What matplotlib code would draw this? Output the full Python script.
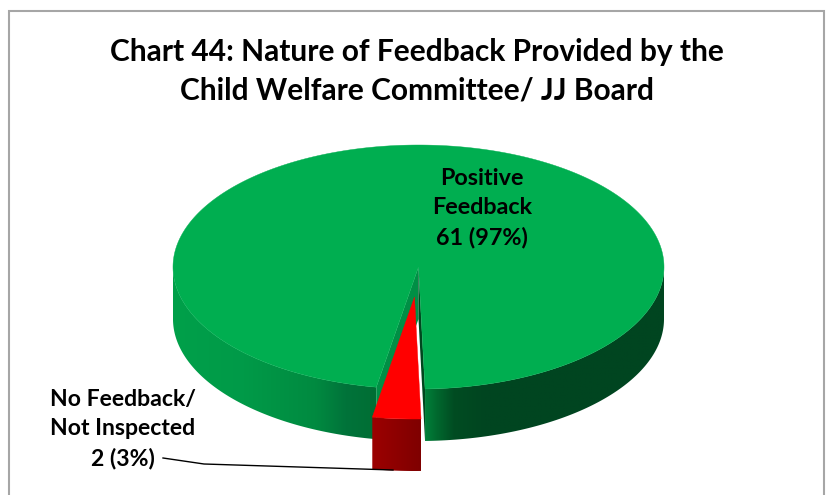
import numpy as np
import matplotlib
matplotlib.use('Agg')
import matplotlib.pyplot as plt
from matplotlib.colors import LinearSegmentedColormap
from matplotlib.patches import Polygon, Rectangle

title = 'Chart 44: Nature of Feedback Provided by the\nChild Welfare Committee/ JJ Board'
categories = ['Positive\nFeedback', 'No Feedback/\nNot Inspected']
values = [61, 2]
percents = ['97%', '3%']

plt.rcParams['font.family'] = ['Lato', 'DejaVu Sans']

# pie geometry in pixels
cx, cy = 418.5, 267
rx, ry = 245.5, 122
depth = 52
red_shift = (-4, 30)
start = -9.9  # degrees from the bottom of the ellipse


def rim(a, dx=0, dy=0):
    a = np.radians(a)
    return np.column_stack([cx + dx + rx * np.sin(a), cy + dy + ry * np.cos(a)])


def side_wall(ax, a0, a1, colors, zorder, dx=0, dy=0):
    # wall of the pie: horizontal gradient clipped to the wall outline
    top = rim(np.linspace(a0, a1, 300), dx, dy)
    outline = np.vstack([top, top[::-1] + [0, depth]])
    cmap = LinearSegmentedColormap.from_list('wall', colors)
    x0, x1 = outline[:, 0].min(), outline[:, 0].max()
    y0, y1 = outline[:, 1].min(), outline[:, 1].max()
    im = ax.imshow(np.linspace(0, 1, 256).reshape(1, -1), cmap=cmap, aspect='auto',
                   extent=(x0, x1, y1, y0), interpolation='bilinear', zorder=zorder)
    clip = Polygon(outline, transform=ax.transData, fc='none', ec='none')
    ax.add_patch(clip)
    im.set_clip_path(clip)


def main():
    fig = plt.figure(figsize=(8.28, 4.95), dpi=100)
    ax = fig.add_axes([0, 0, 1, 1])
    ax.axis('off')

    # chart frame
    ax.add_patch(Rectangle((9, 10.5), 815.5, 500, fc='white', ec='#a6a6a6', lw=1.5, zorder=0))

    # slice angles from the data
    sweep = 360 * values[1] / sum(values)
    end = start + sweep

    # green wedge: left outer wall, right outer wall, cut walls, top
    left_colors = [(0, '#00a04a'), (0.35, '#009a48'), (0.7, '#008a40'), (0.85, '#00733a'), (1, '#006e34')]
    right_colors = [(0, '#008039'), (0.05, '#00682e'), (0.12, '#004c22'), (0.25, '#004520'), (1, '#004520')]
    side_wall(ax, 270, 360 + start, left_colors, 1)
    side_wall(ax, end, 90, right_colors, 1)
    apex = np.array([cx, cy])
    left = rim(start)[0]
    right = rim(end)[0]
    ax.add_patch(Polygon([apex, left, left + [0, depth], apex + [0, depth]], fc='#008f45', ec='none', zorder=2))
    ax.add_patch(Polygon([apex, right, right + [0, depth], apex + [0, depth]], fc='#00471e', ec='none', zorder=2))
    green = rim(np.linspace(end, 360 + start, 400))
    ax.add_patch(Polygon(np.vstack([apex, green]), fc='#00ae50', ec='#00ae50', lw=0.3, zorder=3))

    # pulled out red slice
    side_wall(ax, start, end, ['#9c0000', '#7f0000'], 4, *red_shift)
    red = rim(np.linspace(start, end, 40), *red_shift)
    red_apex = apex + red_shift
    ax.add_patch(Polygon(np.vstack([red_apex, red]), fc='#ff0000', ec='#ff0000', lw=0.3, zorder=5))

    # texts
    ax.text(417, 71, title, ha='center', va='center', fontsize=21.5, fontweight='bold',
            color='black', linespacing=1.44, zorder=6)
    ax.text(482, 208, f'{categories[0]}\n{values[0]} ({percents[0]})', ha='center', va='center',
            fontsize=16.8, fontweight='bold', color='black', linespacing=1.47, zorder=6)
    ax.text(123, 429, f'{categories[1]}\n{values[1]} ({percents[1]})', ha='center', va='center',
            fontsize=16.6, fontweight='bold', color='black', linespacing=1.47, zorder=6)

    # leader line
    ax.plot([163, 204, 393], [458, 464, 470], color='black', lw=1, zorder=6)

    ax.set_xlim(0, 828)
    ax.set_ylim(495, 0)
    fig.savefig('out.png', dpi=100)


if __name__ == "__main__":
    main()
